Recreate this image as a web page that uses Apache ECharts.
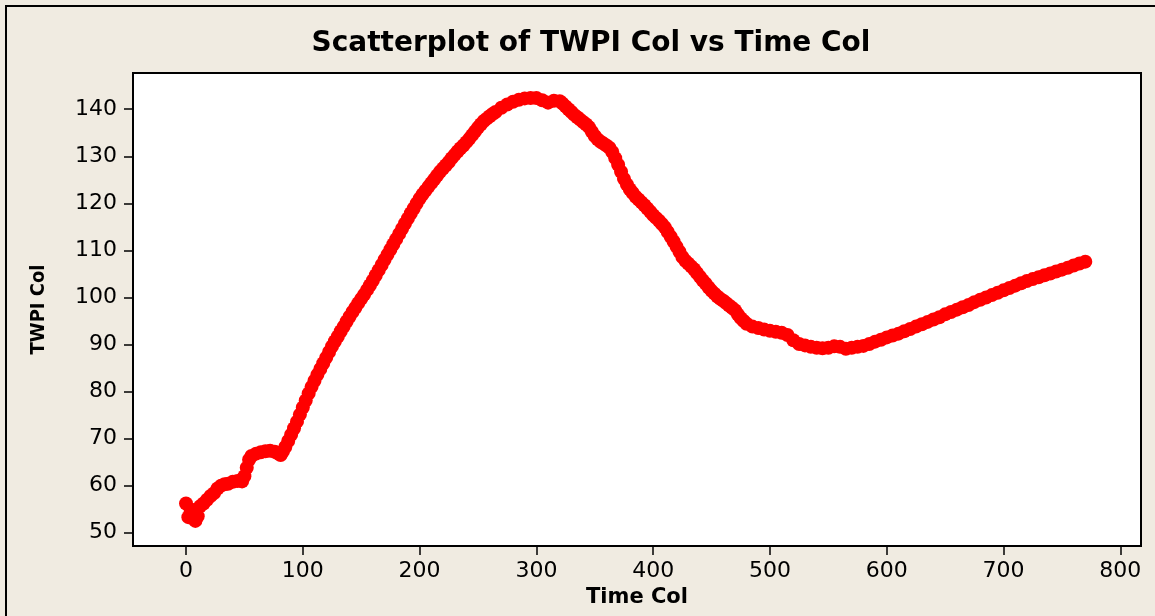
<!DOCTYPE html>
<html>
<head>
<meta charset="utf-8">
<script src="https://cdn.jsdelivr.net/npm/echarts@6/dist/echarts.min.js"></script>
<style>
html,body{margin:0;padding:0;background:#F0EBE1;}
#chart{width:1155px;height:616px;}
</style>
</head>
<body>
<div id="chart"></div>
<script>
// Time Col values (x)
var timeCol = [0,2,4,6,8,10,12,15,18,21,24,27,30,33,36,40,44,48,50,52,54,56,60,64,68,72,76,79,81,83,
  85,87.5,90,92.5,95,97.5,100,102.5,105,107.5,110,112.5,115,117.5,120,122.5,125,127.5,130,132.5,
  135,137.5,140,142.5,145,147.5,150,152.5,155,157.5,160,162.5,165,167.5,170,172.5,175,177.5,180,182.5,
  185,187.5,190,192.5,195,197.5,200,202.5,205,207.5,210,212.5,215,217.5,220,222.5,225,227.5,230,232.5,
  235,237.5,240,242.5,245,247.5,250,252.5,255,257.5,260,262.5,265,
  270,275,280,285,290,295,300,305,310,315,320,
  322.5,325,327.5,330,332.5,335,337.5,340,342.5,345,347.5,350,352.5,355,357.5,360,362.5,365,367.5,370,
  372.5,375,377.5,380,382.5,385,387.5,390,392.5,395,397.5,400,402.5,405,407.5,410,412.5,415,417.5,420,
  422.5,425,427.5,430,432.5,435,437.5,440,442.5,445,447.5,450,452.5,455,457.5,460,462.5,465,467.5,470,
  472.5,475,477.5,480,
  485,490,495,500,505,510,515,520,525,530,535,540,545,550,555,560,565,570,575,580,585,590,595,600,
  605,610,615,620,625,630,635,640,645,650,655,660,665,670,675,680,685,690,695,700,
  705,710,715,720,725,730,735,740,745,750,755,760,765,770];
// TWPI Col values (y)
var twpiCol = [56.2,53.3,54.5,54.8,52.5,53.5,55.6,56.2,57.0,57.8,58.4,59.4,60.0,60.3,60.4,60.8,61.0,60.9,62.0,63.8,65.5,66.3,66.8,67.1,67.3,67.4,67.2,66.8,66.5,67.3,
  68.2,69.5,70.8,72.2,73.6,75.1,76.6,78.1,79.6,81.0,82.3,83.6,84.8,86.0,87.2,88.4,89.6,90.7,91.7,92.8,
  93.8,94.9,95.9,96.9,97.8,98.8,99.7,100.6,101.6,102.6,103.6,104.7,105.8,106.9,108.0,109.1,110.2,111.3,112.4,113.5,
  114.6,115.7,116.8,117.9,118.9,120.0,121.0,121.9,122.7,123.5,124.3,125.1,125.9,126.7,127.4,128.1,128.8,129.6,130.3,131.0,
  131.7,132.3,133.0,133.7,134.5,135.3,136.1,136.8,137.5,138.0,138.5,139.0,139.4,
  140.3,141.0,141.6,142.0,142.3,142.4,142.4,141.9,141.4,141.8,141.7,
  141.2,140.6,140.0,139.4,138.8,138.3,137.8,137.3,136.8,136.2,135.2,134.3,133.6,133.1,132.7,132.3,131.8,130.9,129.6,128.2,
  126.7,125.2,124.0,123.0,122.2,121.4,120.8,120.2,119.6,118.9,118.2,117.5,116.9,116.3,115.6,114.9,113.9,112.9,111.9,110.8,
  109.7,108.6,107.8,107.2,106.6,106.0,105.2,104.4,103.6,102.9,102.1,101.4,100.8,100.2,99.7,99.3,98.8,98.3,97.8,97.3,
  96.4,95.6,95.0,94.4,
  93.8,93.5,93.2,92.9,92.7,92.5,92.0,90.9,90.1,89.8,89.5,89.3,89.2,89.3,89.6,89.5,89.1,89.3,89.5,89.7,90.1,90.6,91.0,91.5,
  91.9,92.3,92.8,93.3,93.8,94.3,94.8,95.3,95.8,96.4,96.9,97.4,97.9,98.4,99.0,99.5,100.0,100.5,101.0,101.5,
  102.0,102.5,103.0,103.5,103.9,104.3,104.7,105.1,105.5,105.9,106.3,106.8,107.2,107.6];
var xTicks = [0,100,200,300,400,500,600,700,800];
var yTicks = [50,60,70,80,90,100,110,120,130,140];

var points = timeCol.map(function(t,i){ return [t, twpiCol[i]]; });

var chart = echarts.init(document.getElementById('chart'), null, {renderer:'canvas'});
var labelFont = {color:'#000', fontFamily:'DejaVu Sans', fontSize:22};
chart.setOption({
  backgroundColor:'#F0EBE1',
  animation:false,
  graphic:[
    {type:'rect', shape:{x:6,y:6,width:1200,height:700}, style:{fill:'none', stroke:'#000', lineWidth:2}, silent:true, z:-1},
    {type:'text', x:591, y:44, style:{text:'Scatterplot of TWPI Col vs Time Col', fill:'#000', font:'bold 28px "DejaVu Sans"', textAlign:'center', textVerticalAlign:'middle'}}
  ],
  grid:{left:133, right:14, top:73, bottom:70, show:true, backgroundColor:'#fff', borderColor:'#000', borderWidth:2},
  xAxis:{
    type:'value', min:-45.4, max:817.7,
    name:'Time Col', nameLocation:'middle', nameGap:41,
    nameTextStyle:{color:'#000', fontFamily:'DejaVu Sans', fontWeight:'bold', fontSize:21},
    axisLine:{show:true, onZero:false, lineStyle:{color:'#000', width:2}},
    axisTick:{show:true, length:9, inside:false, customValues:xTicks, lineStyle:{color:'#000', width:1.5}},
    axisLabel:Object.assign({customValues:xTicks, margin:14}, labelFont),
    splitLine:{show:false}
  },
  yAxis:{
    type:'value', min:47.17, max:147.7,
    name:'TWPI Col', nameLocation:'middle', nameGap:84, nameRotate:90,
    nameTextStyle:{color:'#000', fontFamily:'"DejaVu Sans Condensed", "DejaVu Sans"', fontWeight:'bold', fontSize:20},
    axisLine:{show:true, onZero:false, lineStyle:{color:'#000', width:2}},
    axisTick:{show:true, length:9, inside:false, customValues:yTicks, lineStyle:{color:'#000', width:1.5}},
    axisLabel:Object.assign({customValues:yTicks, margin:16}, labelFont),
    splitLine:{show:false}
  },
  series:[{
    type:'scatter',
    data:points,
    symbol:'circle',
    symbolSize:14,
    itemStyle:{color:'#FF0000', opacity:1},
    emphasis:{disabled:true}
  }]
});
</script>
</body>
</html>
